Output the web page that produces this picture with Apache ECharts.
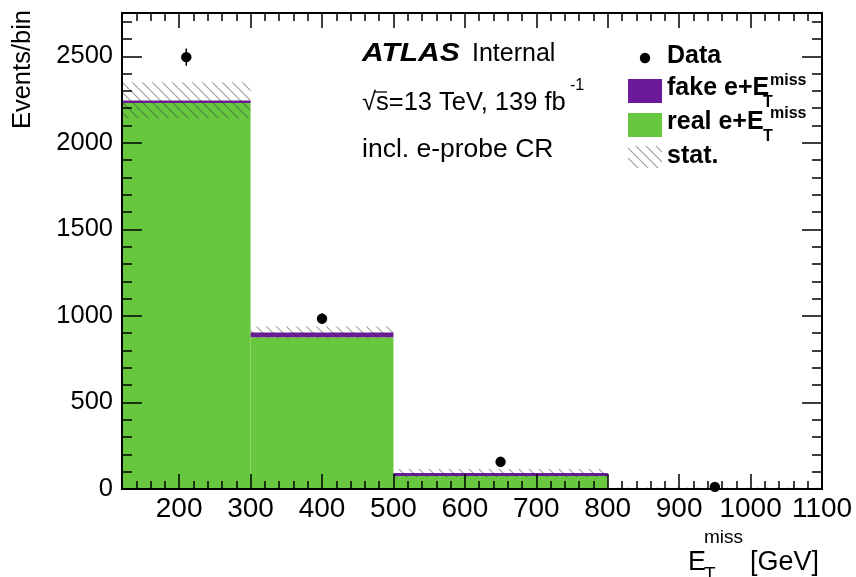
<!DOCTYPE html>
<html><head><meta charset="utf-8">
<script src="https://cdn.jsdelivr.net/npm/echarts@6/dist/echarts.min.js"></script>
<style>html,body{margin:0;padding:0;background:#fff}#c{width:856px;height:577px}</style>
</head><body><div id="c"></div>
<script>
// ---- data ----
const binEdges = [120, 300, 500, 800, 1100];
const realValues = [2230, 876, 75, 4];
const fakeValues = [15, 28, 17, 1];
const statErrors = [105, 35, 23, 3];
const dataX = [210, 400, 650, 950];
const dataValues = [2495, 984, 157, 12];
const xTickLabels = [200, 300, 400, 500, 600, 700, 800, 900, 1000, 1100];
const yTickLabels = [0, 500, 1000, 1500, 2000, 2500];

const FONT = "'Liberation Sans', Arial, Helvetica, sans-serif";
const GREEN = '#67c83f';
const PURPLE = '#6a1a9a';

function makeHatch() {
  const c = document.createElement('canvas');
  c.width = 10; c.height = 10;
  const g = c.getContext('2d');
  g.strokeStyle = 'rgba(60,60,60,0.5)';
  g.lineWidth = 1.1;
  g.beginPath();
  g.moveTo(-5, -5); g.lineTo(15, 15);
  g.moveTo(-5, 5); g.lineTo(5, 15);
  g.moveTo(5, -5); g.lineTo(15, 5);
  g.stroke();
  return c;
}
const hatch = { image: makeHatch(), repeat: 'repeat' };

const binData = realValues.map((r, i) => [binEdges[i], binEdges[i + 1], r, fakeValues[i], statErrors[i]]);
const pointData = dataValues.map((v, i) => [dataX[i], v, Math.sqrt(v)]);

const chart = echarts.init(document.getElementById('c'), null, { renderer: 'canvas' });

const tickStyle = { color: '#000', width: 1.5 };
const lineStyle = { color: '#000', width: 2 };
const plainNum = v => String(v);
function xAx(pos, major) {
  const a = {
    type: 'value', position: pos, min: 120, max: 1100, z: 5,
    splitLine: { show: false },
    axisLine: { show: major, onZero: false, lineStyle: lineStyle },
    axisTick: { show: true, inside: true, length: major ? 15 : 8, lineStyle: tickStyle },
    axisLabel: { show: false }
  };
  if (major) {
    a.axisTick.customValues = xTickLabels;
    a.axisLabel = { show: pos === 'bottom', customValues: xTickLabels, formatter: plainNum, color: '#000', fontSize: 28, fontFamily: FONT, margin: 6 };
  } else {
    a.interval = 20;
  }
  return a;
}
function yAx(pos, major) {
  const a = {
    type: 'value', position: pos, min: 0, max: 2750, z: 5,
    splitLine: { show: false },
    axisLine: { show: major, onZero: false, lineStyle: lineStyle },
    axisTick: { show: true, inside: true, length: major ? 20 : 10, lineStyle: tickStyle },
    axisLabel: { show: false }
  };
  if (major) {
    a.axisTick.customValues = yTickLabels;
    a.axisLabel = { show: pos === 'left', customValues: yTickLabels, formatter: plainNum, color: '#000', fontSize: 25.5, fontFamily: FONT, margin: 9 };
  } else {
    a.interval = 100;
  }
  return a;
}

function txt(x, y, text, font, extra) {
  return Object.assign({ type: 'text', x: x, y: y, style: { text: text, font: font + ' ' + FONT, fill: '#000', align: 'left', verticalAlign: 'middle' } }, extra || {});
}

const option = {
  animation: false,
  backgroundColor: '#fff',
  grid: { left: 122, right: 34, top: 13, bottom: 88, show: false },
  xAxis: [xAx('bottom', true), xAx('bottom', false), xAx('top', true), xAx('top', false)],
  yAxis: [yAx('left', true), yAx('left', false), yAx('right', true), yAx('right', false)],
  series: [
    {
      type: 'custom', xAxisIndex: 0, yAxisIndex: 0, z: 2,
      data: binData,
      renderItem: function (params, api) {
        const x0 = api.value(0), x1 = api.value(1), real = api.value(2), fake = api.value(3), err = api.value(4);
        const tot = real + fake;
        const a = api.coord([x0, 0]), b = api.coord([x1, real]);
        const c = api.coord([x1, tot]);
        const h1 = api.coord([x0, tot + err]), h2 = api.coord([x1, tot - err]);
        return {
          type: 'group', children: [
            { type: 'rect', shape: { x: a[0], y: b[1], width: b[0] - a[0], height: a[1] - b[1] }, style: { fill: GREEN } },
            { type: 'rect', shape: { x: a[0], y: c[1], width: b[0] - a[0], height: b[1] - c[1] }, style: { fill: PURPLE } },
            { type: 'rect', shape: { x: h1[0], y: h1[1], width: h2[0] - h1[0], height: h2[1] - h1[1] }, style: { fill: hatch } }
          ]
        };
      }
    },
    {
      type: 'custom', xAxisIndex: 0, yAxisIndex: 0, z: 3,
      data: pointData,
      renderItem: function (params, api) {
        const x = api.value(0), y = api.value(1), e = api.value(2);
        const p = api.coord([x, y]), lo = api.coord([x, y - e]), hi = api.coord([x, y + e]);
        return {
          type: 'group', children: [
            { type: 'line', shape: { x1: p[0], y1: hi[1], x2: p[0], y2: lo[1] }, style: { stroke: '#000', lineWidth: 1.5 } },
            { type: 'circle', shape: { cx: p[0], cy: p[1], r: 5.2 }, style: { fill: '#000' } }
          ]
        };
      }
    }
  ],
  graphic: [
    // axis titles
    { type: 'text', x: 23, y: 10, rotation: Math.PI / 2, style: { text: 'Events/bin', font: '25.5px ' + FONT, fill: '#000', align: 'right', verticalAlign: 'middle' } },
    txt(688, 562.5, 'E', '27px'),
    txt(704, 538, 'miss', '19px'),
    txt(704, 574.5, 'T', '19px'),
    txt(750, 562.5, '[GeV]', '27px'),
    // ATLAS label
    txt(362, 54, 'ATLAS', 'italic bold 25px', { scaleX: 1.2 }),
    txt(472, 54, 'Internal', '25px'),
    txt(362, 102.5, '√s=13 TeV, 139 fb', '25.5px'),
    { type: 'line', shape: { x1: 374, y1: 92, x2: 387, y2: 92 }, style: { stroke: '#000', lineWidth: 1.3 } },
    txt(570, 86, '-1', '16px'),
    txt(362, 150, 'incl. e-probe CR', '26.5px'),
    // legend
    { type: 'circle', shape: { cx: 645, cy: 58, r: 5.2 }, style: { fill: '#000' } },
    txt(667, 56.5, 'Data', 'bold 25px'),
    { type: 'rect', shape: { x: 628, y: 79, width: 34, height: 24 }, style: { fill: PURPLE } },
    txt(667, 88, 'fake e+E', 'bold 25px'),
    txt(770, 80.3, 'miss', 'bold 16px'),
    txt(763, 102.5, 'T', 'bold 16px'),
    { type: 'rect', shape: { x: 628, y: 113, width: 34, height: 24 }, style: { fill: GREEN } },
    txt(667, 122, 'real e+E', 'bold 25px'),
    txt(770, 113.3, 'miss', 'bold 16px'),
    txt(763, 136.5, 'T', 'bold 16px'),
    { type: 'rect', shape: { x: 628, y: 146, width: 34, height: 22 }, style: { fill: hatch } },
    txt(667, 156, 'stat.', 'bold 25px')
  ]
};
chart.setOption(option);
</script></body></html>
